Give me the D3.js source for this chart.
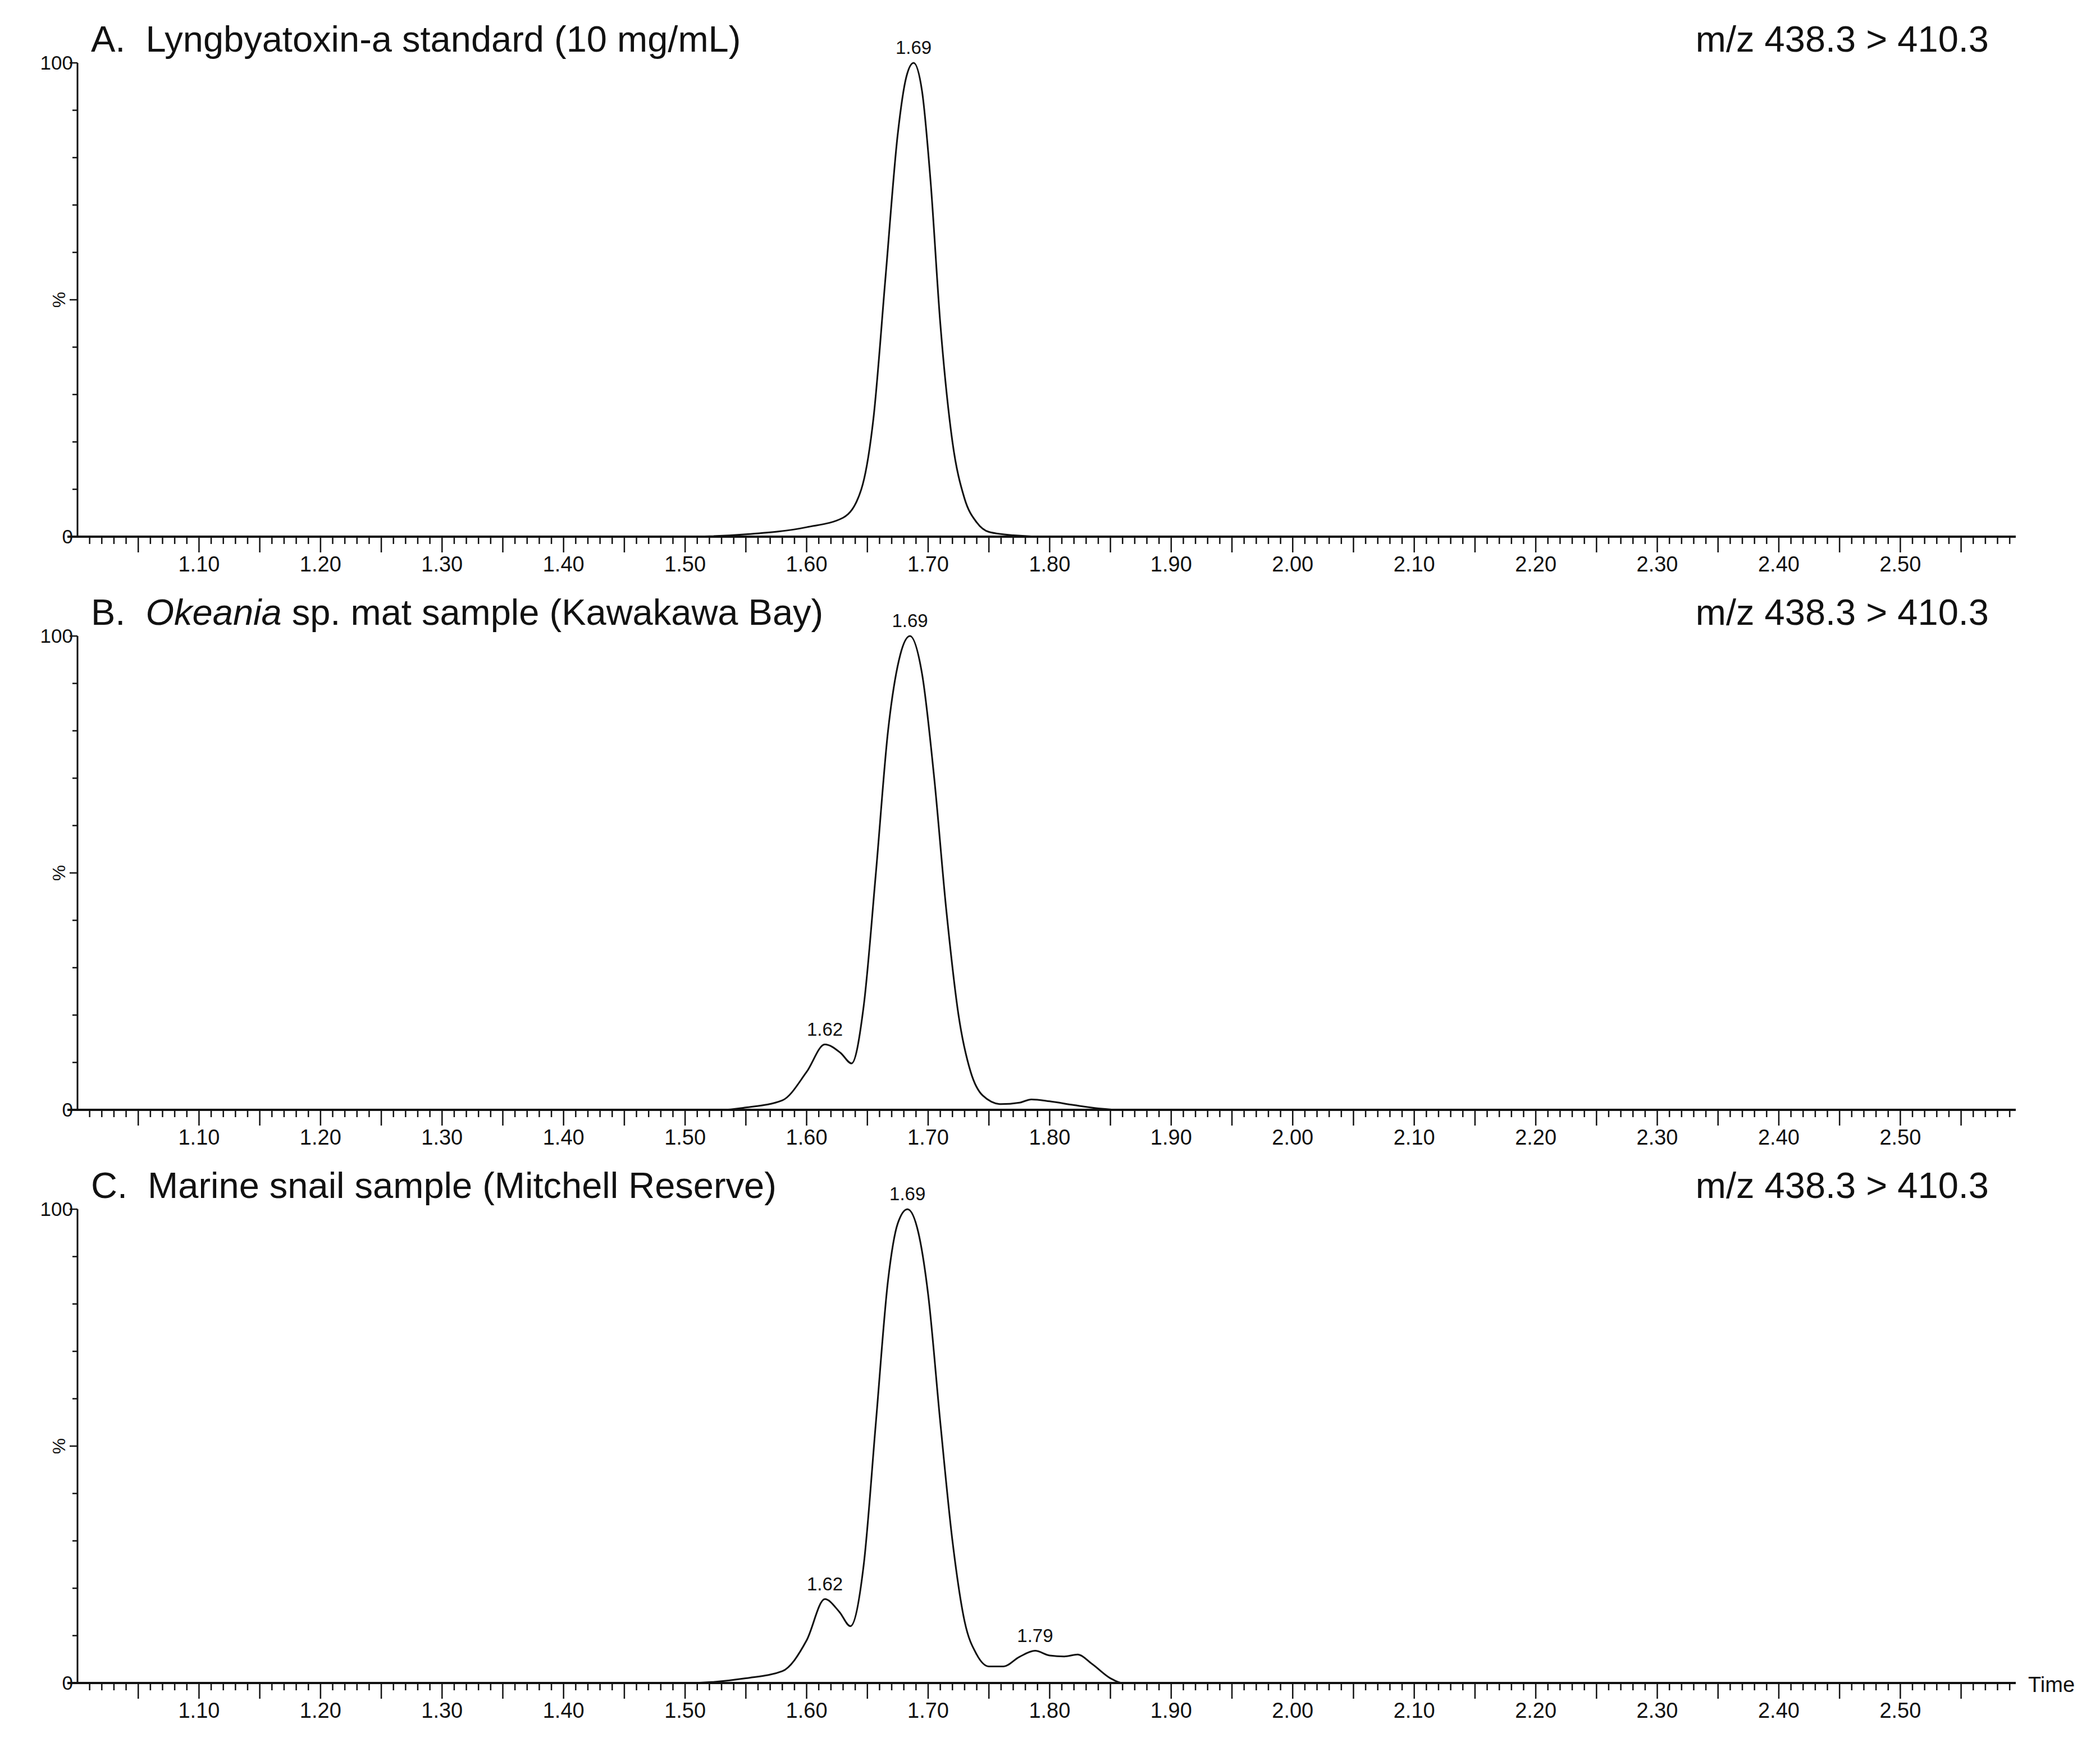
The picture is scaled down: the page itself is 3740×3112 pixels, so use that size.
<!DOCTYPE html>
<html><head><meta charset="utf-8">
<script src="https://cdn.jsdelivr.net/npm/d3@7"></script>
<style>body{margin:0;background:#fff}text{font-family:"Liberation Sans",Arial,sans-serif;fill:#111}</style>
</head><body><svg id="c" width="3740" height="3112"></svg>
<script>
const timeA = [1.00,1.50,1.55,1.60,1.63,1.645,1.655,1.665,1.675,1.682,1.688,1.695,1.702,1.71,1.72,1.73,1.74,1.75,1.77,1.80,2.595];
const valA  = [0,0,0.5,2,4,10,25,55,85,97,100,94,75,45,20,8,3,1,0.3,0,0];
const timeB = [1.00,1.53,1.55,1.58,1.60,1.615,1.628,1.637,1.647,1.657,1.667,1.677,1.685,1.695,1.705,1.715,1.725,1.735,1.745,1.76,1.775,1.785,1.80,1.82,1.84,1.86,2.595];
const valB  = [0,0,0.5,2,8,13.8,12,9.8,22,50,80,96,100,92,70,42,20,8,3,1.2,1.5,2.2,1.8,1,0.3,0,0];
const timeC = [1.00,1.50,1.55,1.58,1.60,1.615,1.627,1.636,1.647,1.657,1.667,1.675,1.683,1.692,1.70,1.71,1.72,1.73,1.74,1.75,1.762,1.775,1.788,1.80,1.812,1.823,1.835,1.85,1.86,2.595];
const valC  = [0,0,1,2.5,9,17.7,15,12,25,55,85,97,100,95,82,55,30,13,6,3.5,3.5,5.5,6.8,5.8,5.6,6,4,1,0,0];
const xTickLabels = ["1.10","1.20","1.30","1.40","1.50","1.60","1.70","1.80","1.90","2.00","2.10","2.20","2.30","2.40","2.50"];
const panels = [
 {t:timeA,v:valA,title:["A.\u00a0\u00a0Lyngbyatoxin-a standard (10 mg/mL)"],peaks:[[1.688,"1.69"]]},
 {t:timeB,v:valB,title:["B.\u00a0\u00a0",["Okeania",true]," sp. mat sample (Kawakawa Bay)"],peaks:[[1.685,"1.69"],[1.615,"1.62"]]},
 {t:timeC,v:valC,title:["C.\u00a0\u00a0Marine snail sample (Mitchell Reserve)"],peaks:[[1.683,"1.69"],[1.615,"1.62"],[1.788,"1.79"]]}
];
const mz = "m/z 438.3 > 410.3";
const svg = d3.select("#c");
const L=138,R=3590,tops=[112,1133,2154],H=844;
const x=d3.scaleLinear().domain([1.0,2.595]).range([L,R]);
panels.forEach((p,i)=>{
  const y=d3.scaleLinear().domain([0,100]).range([tops[i]+H,tops[i]]);
  const g=svg.append("g");
  g.append("line").attr("x1",L).attr("x2",L).attr("y1",y(0)).attr("y2",y(100)).attr("stroke","#111").attr("stroke-width",3);
  d3.range(0,101,10).forEach(v=>g.append("line").attr("x1",L-(v%50===0?14:9)).attr("x2",L).attr("y1",y(v)).attr("y2",y(v)).attr("stroke","#111").attr("stroke-width",2.5));
  g.append("text").attr("x",L-8).attr("y",y(100)+12).attr("text-anchor","end").attr("font-size",35).text("100");
  g.append("text").attr("x",L-8).attr("y",y(0)+12).attr("text-anchor","end").attr("font-size",35).text("0");
  g.append("text").attr("transform",`translate(${L-22},${y(50)}) rotate(-90)`).attr("text-anchor","middle").attr("font-size",32).text("%");
  g.append("line").attr("x1",L-18).attr("x2",R).attr("y1",y(0)).attr("y2",y(0)).attr("stroke","#111").attr("stroke-width",4);
  d3.range(1,160).forEach(k=>{const t=1.0+k*0.01; if(t>2.595)return;
    const big=k%5===0;
    g.append("line").attr("x1",x(t)).attr("x2",x(t)).attr("y1",y(0)).attr("y2",y(0)+(big?28:13)).attr("stroke","#111").attr("stroke-width",2.5);});
  xTickLabels.forEach(s=>g.append("text").attr("x",x(+s)).attr("y",y(0)+62).attr("text-anchor","middle").attr("font-size",38).text(s));
  const line=d3.line().x((d,j)=>x(p.t[j])).y(d=>y(d)).curve(d3.curveMonotoneX);
  g.append("path").attr("d",line(p.v)).attr("fill","none").attr("stroke","#111").attr("stroke-width",3);
  p.peaks.forEach(([t,s])=>{
    const j=p.t.indexOf(t);
    g.append("text").attr("x",x(t)).attr("y",y(p.v[j])-16).attr("text-anchor","middle").attr("font-size",33).text(s);
  });
  const tt=g.append("text").attr("x",162).attr("y",tops[i]-20).attr("font-size",65);
  p.title.forEach(part=>{ if(Array.isArray(part)) tt.append("tspan").attr("font-style","italic").text(part[0]); else tt.append("tspan").text(part); });
  g.append("text").attr("x",3542).attr("y",tops[i]-20).attr("text-anchor","end").attr("font-size",65).text(mz);
  if(i===2) g.append("text").attr("x",R+22).attr("y",y(0)+16).attr("font-size",38).text("Time");
});
</script></body></html>
